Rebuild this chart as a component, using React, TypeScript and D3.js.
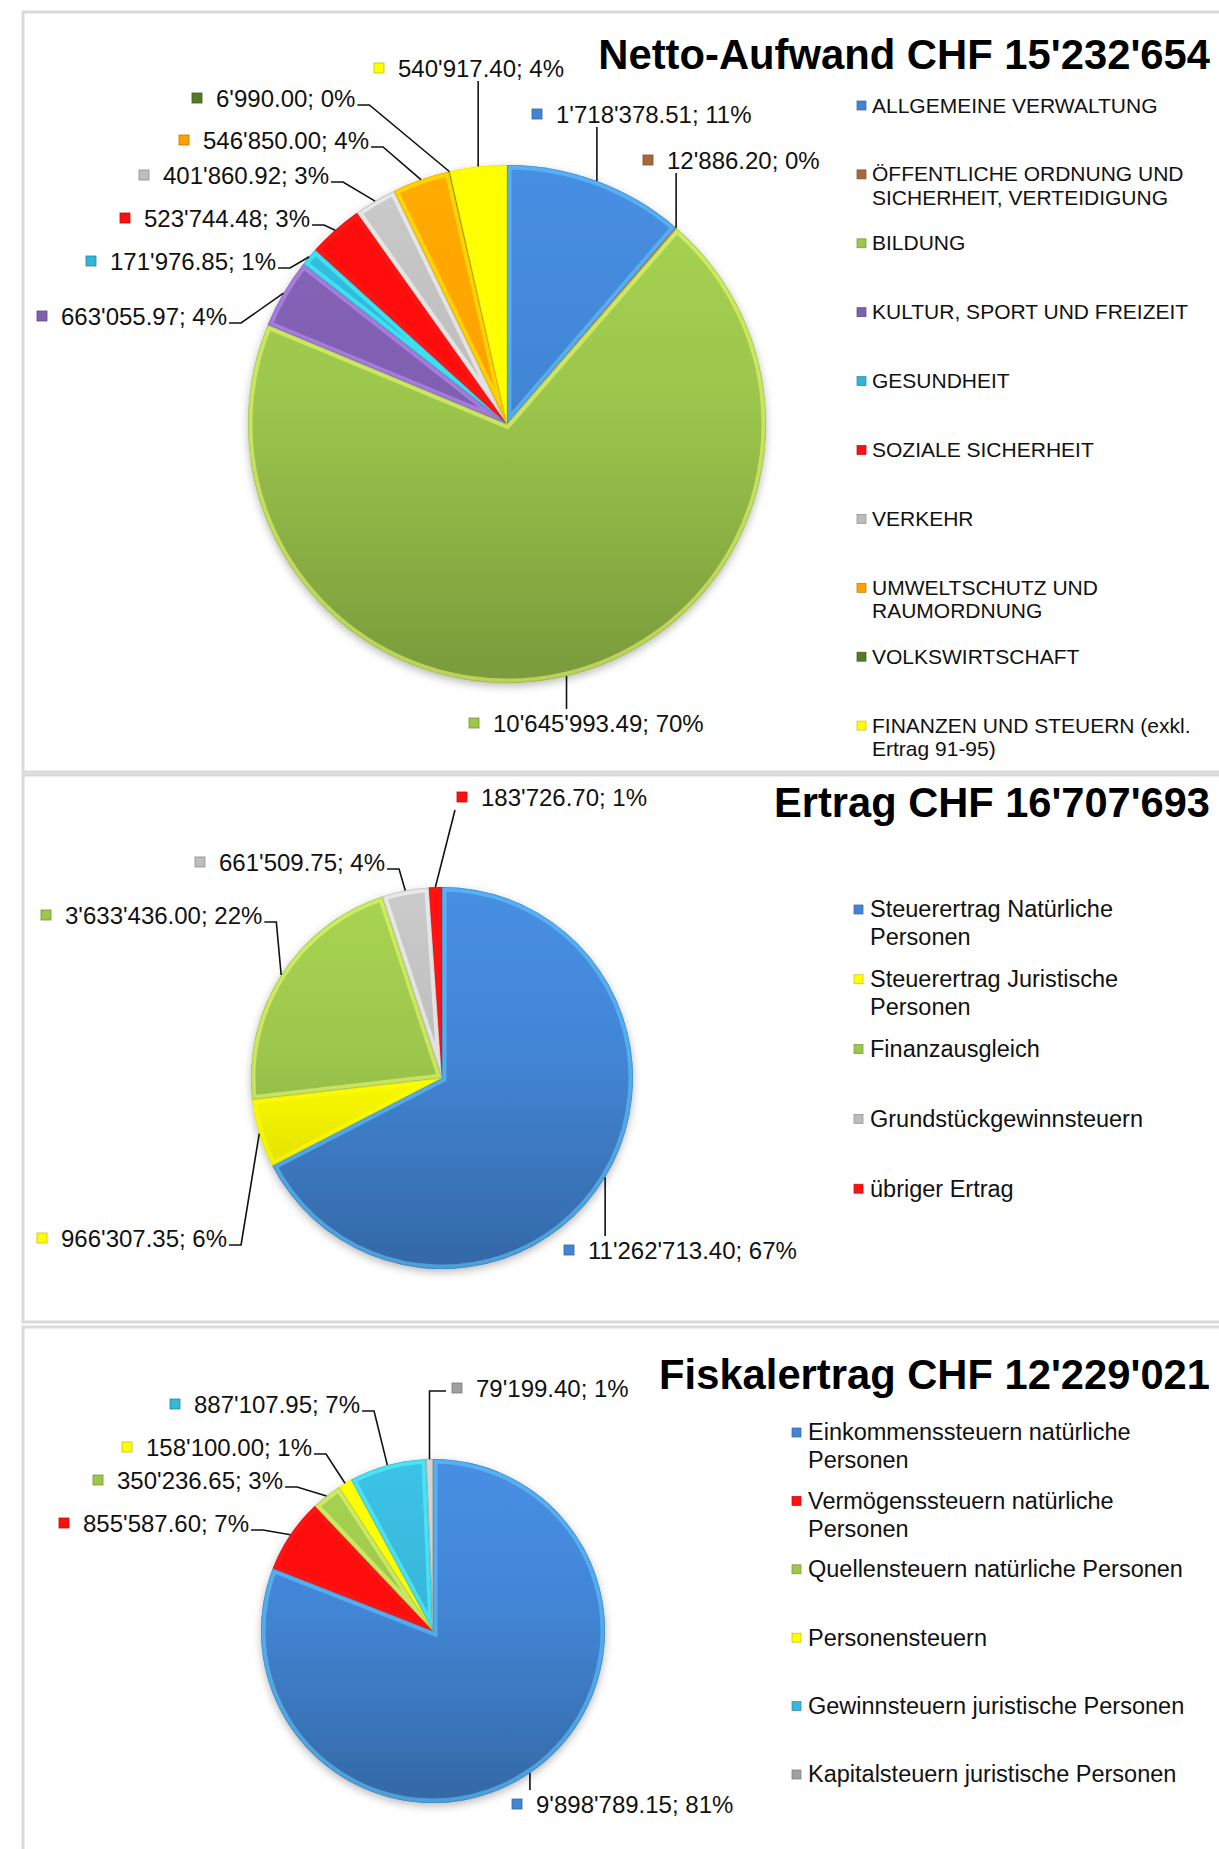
import React from 'react';
import * as d3 from 'd3';

// ---- data ----
const aufwandNames = [
  'ALLGEMEINE VERWALTUNG',
  'ÖFFENTLICHE ORDNUNG UND\nSICHERHEIT, VERTEIDIGUNG',
  'BILDUNG',
  'KULTUR, SPORT UND FREIZEIT',
  'GESUNDHEIT',
  'SOZIALE SICHERHEIT',
  'VERKEHR',
  'UMWELTSCHUTZ UND\nRAUMORDNUNG',
  'VOLKSWIRTSCHAFT',
  'FINANZEN UND STEUERN (exkl.\nErtrag 91-95)',
];
const aufwandValues = [1718378.51, 12886.2, 10645993.49, 663055.97, 171976.85, 523744.48, 401860.92, 546850.0, 6990.0, 540917.4];
const aufwandColors = ['#4285d4', '#a8683a', '#9cc64c', '#7f5fb0', '#31b5d6', '#ff1010', '#bdbdbd', '#ffa000', '#557a25', '#ffff00'];

const ertragNames = [
  'Steuerertrag Natürliche\nPersonen',
  'Steuerertrag Juristische\nPersonen',
  'Finanzausgleich',
  'Grundstückgewinnsteuern',
  'übriger Ertrag',
];
const ertragValues = [11262713.4, 966307.35, 3633436.0, 661509.75, 183726.7];
const ertragColors = ['#4285d4', '#ffff00', '#9cc64c', '#bdbdbd', '#ff1010'];

const fiskalNames = [
  'Einkommenssteuern natürliche\nPersonen',
  'Vermögenssteuern natürliche\nPersonen',
  'Quellensteuern natürliche Personen',
  'Personensteuern',
  'Gewinnsteuern juristische Personen',
  'Kapitalsteuern juristische Personen',
];
const fiskalValues = [9898789.15, 855587.6, 350236.65, 158100.0, 887107.95, 79199.4];
const fiskalColors = ['#4285d4', '#ff1010', '#9cc64c', '#ffff00', '#38b6d8', '#a0a0a0'];

// ---- layout ----
const FONT = '"Liberation Sans", Arial, sans-serif';
const W = 1219;
const H = 1849;

const swiss = d3.formatLocale({ decimal: '.', thousands: "'", grouping: [3], currency: ['', ''] });
const fmt2 = swiss.format(',.2f');
const fmt0 = swiss.format(',.0f');

let ctx: CanvasRenderingContext2D | null = null;
const textWidth = (s: string, size: number, weight = 'normal') => {
  if (!ctx) ctx = document.createElement('canvas').getContext('2d');
  if (!ctx) return s.length * size * 0.55;
  ctx.font = `${weight} ${size}px "Liberation Sans", Arial, sans-serif`;
  return ctx.measureText(s).width;
};

const LABEL_FS = 24;
const TITLE_FS = 43;

const PiePanel = ({ id, names, values, colors, title, box, pie, titleY, titleLen, labels, legend }) => {
  const total = d3.sum(values);
  const arcs = d3.pie<number>().sort(null).value((d) => d)(values);
  const arc = d3.arc<any>().innerRadius(0).outerRadius(pie.r);
  const titleText = `${title} CHF ${fmt0(total)}`;
  const sx = Math.min(1, titleLen / textWidth(titleText, TITLE_FS, 'bold'));

  const edgePoint = (a) => {
    const ang = (a.startAngle + a.endAngle) / 2;
    return [pie.cx + pie.r * Math.sin(ang), pie.cy - pie.r * Math.cos(ang)];
  };

  return (
    <g>
      <rect x={23} y={box.y} width={W} height={box.h} fill="#fff" stroke="#dadada" strokeWidth={3} />
      <defs>
        <filter id={`${id}-sh`} x="-20%" y="-20%" width="140%" height="140%">
          <feDropShadow dx="0" dy="3" stdDeviation="4" floodColor="#000" floodOpacity="0.28" />
        </filter>
        {arcs.map((a, i) => {
          const c = d3.color(colors[i]);
          return (
            <React.Fragment key={i}>
              {/* gradient lives in the slice's own (translated) space */}
              <linearGradient id={`${id}-g${i}`} gradientUnits="userSpaceOnUse" x1={0} y1={-pie.r} x2={0} y2={pie.r}>
                <stop offset="0" stopColor={c.brighter(0.2).formatHex()} />
                <stop offset="0.45" stopColor={colors[i]} />
                <stop offset="1" stopColor={c.darker(0.7).formatHex()} />
              </linearGradient>
              <clipPath id={`${id}-c${i}`}>
                <path d={arc(a)} transform={`translate(${pie.cx},${pie.cy})`} />
              </clipPath>
            </React.Fragment>
          );
        })}
      </defs>

      <g transform={`translate(1210,${titleY}) scale(${sx},1)`}>
        <text x={0} y={0} textAnchor="end" fontFamily={FONT} fontWeight="bold" fontSize={TITLE_FS} fill="#000">
          {titleText}
        </text>
      </g>

      <g filter={`url(#${id}-sh)`}>
        {arcs.map((a, i) => (
          <path key={i} d={arc(a)} transform={`translate(${pie.cx},${pie.cy})`} fill={`url(#${id}-g${i})`} />
        ))}
      </g>
      {arcs.map((a, i) => (
        <g key={i} clipPath={`url(#${id}-c${i})`}>
          <path
            d={arc(a)}
            transform={`translate(${pie.cx},${pie.cy})`}
            fill="none"
            stroke={d3.color(colors[i]).brighter(1.2).formatHex()}
            strokeOpacity={0.55}
            strokeWidth={9}
          />
          <path
            d={arc(a)}
            transform={`translate(${pie.cx},${pie.cy})`}
            fill="none"
            stroke={d3.color(colors[i]).darker(0.5).formatHex()}
            strokeOpacity={0.5}
            strokeWidth={1.5}
          />
        </g>
      ))}

      {arcs.map((a, i) => {
        const lb = labels[i];
        const txt = `${fmt2(values[i])}; ${Math.round((values[i] / total) * 100)}%`;
        const w = textWidth(txt, LABEL_FS);
        const [ex, ey] = edgePoint(a);
        let pts: number[][];
        if (lb.t === 'below' || lb.t === 'above') {
          const ax = Math.max(lb.x - 26, Math.min(lb.x + w, ex));
          const ay = lb.t === 'below' ? lb.y + 13 : lb.y - 14;
          pts = [[ax, ay], [ex, ey]];
        } else if (lb.t === 'left') {
          pts = [[lb.x - 30, lb.y + 3], [ex, lb.y + 3], [ex, ey]];
        } else {
          pts = [[lb.x + w + 2, lb.y + 7], [lb.x + w + 14, lb.y + 7], [ex, ey]];
        }
        return (
          <g key={i}>
            <polyline points={pts.map((p) => p.join(',')).join(' ')} fill="none" stroke="#111" strokeWidth={1.6} />
            <rect x={lb.x - 24} y={lb.y - 5} width={10} height={10} fill={colors[i]} stroke={d3.color(colors[i]).darker(0.8).formatHex()} strokeWidth={0.8} />
            <text x={lb.x} y={lb.y} dy="0.36em" fontFamily={FONT} fontSize={LABEL_FS} fill="#111">
              {txt}
            </text>
          </g>
        );
      })}

      {names.map((n, i) => {
        const y = legend.y0 + i * legend.step;
        return (
          <g key={i}>
            <rect x={legend.mx - 5} y={y - 4} width={9} height={9} fill={colors[i]} stroke={d3.color(colors[i]).darker(0.8).formatHex()} strokeWidth={0.7} />
            {n.split('\n').map((line, k) => (
              <text key={k} x={legend.tx} y={y + k * legend.lh} dy="0.36em" fontFamily={FONT} fontSize={legend.fs} fill="#111">
                {line}
              </text>
            ))}
          </g>
        );
      })}
    </g>
  );
};

const aufwandLabels = [
  { x: 556, y: 114, t: 'below' },
  { x: 667, y: 160, t: 'below' },
  { x: 493, y: 723, t: 'above' },
  { x: 61, y: 316, t: 'right' },
  { x: 110, y: 261, t: 'right' },
  { x: 144, y: 218, t: 'right' },
  { x: 163, y: 175, t: 'right' },
  { x: 203, y: 140, t: 'right' },
  { x: 216, y: 98, t: 'right' },
  { x: 398, y: 68, t: 'below' },
];
const ertragLabels = [
  { x: 588, y: 1250, t: 'above' },
  { x: 61, y: 1238, t: 'right' },
  { x: 65, y: 915, t: 'right' },
  { x: 219, y: 862, t: 'right' },
  { x: 481, y: 797, t: 'below' },
];
const fiskalLabels = [
  { x: 536, y: 1804, t: 'above' },
  { x: 83, y: 1523, t: 'right' },
  { x: 117, y: 1480, t: 'right' },
  { x: 146, y: 1447, t: 'right' },
  { x: 194, y: 1404, t: 'right' },
  { x: 476, y: 1388, t: 'left' },
];

const App = () => (
  <div>
    <style>{'body{margin:0;background:#fff}'}</style>
    <svg width={W} height={H} style={{ display: 'block' }}>
      <rect width={W} height={H} fill="#fff" />
      <PiePanel
        id="p1"
        names={aufwandNames}
        values={aufwandValues}
        colors={aufwandColors}
        title="Netto-Aufwand"
        box={{ y: 12, h: 760 }}
        pie={{ cx: 507, cy: 424, r: 259 }}
        titleY={69}
        titleLen={612}
        labels={aufwandLabels}
        legend={{ mx: 862, tx: 872, y0: 105, step: 68.9, fs: 21, lh: 23.6 }}
      />
      <PiePanel
        id="p2"
        names={ertragNames}
        values={ertragValues}
        colors={ertragColors}
        title="Ertrag"
        box={{ y: 775, h: 547 }}
        pie={{ cx: 442, cy: 1078, r: 191 }}
        titleY={817}
        titleLen={436}
        labels={ertragLabels}
        legend={{ mx: 859, tx: 870, y0: 909, step: 69.8, fs: 23.5, lh: 28 }}
      />
      <PiePanel
        id="p3"
        names={fiskalNames}
        values={fiskalValues}
        colors={fiskalColors}
        title="Fiskalertrag"
        box={{ y: 1327, h: 540 }}
        pie={{ cx: 433, cy: 1631, r: 172 }}
        titleY={1389}
        titleLen={551}
        labels={fiskalLabels}
        legend={{ mx: 797, tx: 808, y0: 1432, step: 68.4, fs: 23.5, lh: 28 }}
      />
    </svg>
  </div>
);

export default App;
